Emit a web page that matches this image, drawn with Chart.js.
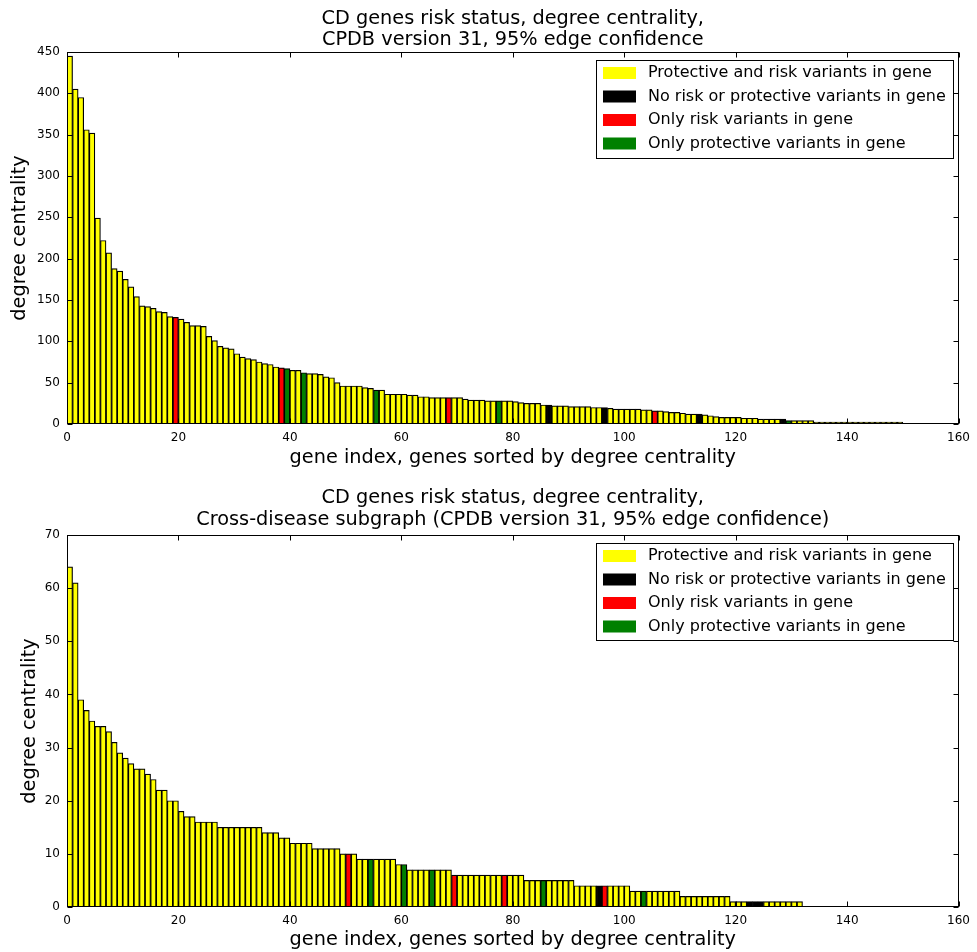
<!DOCTYPE html>
<html>
<head>
<meta charset="utf-8">
<script src="https://cdn.jsdelivr.net/npm/chart.js@4.4.0/dist/chart.umd.min.js"></script>
<style>
  html, body { margin: 0; padding: 0; background: #fff; }
  canvas { display: block; }
</style>
</head>
<body>
<canvas id="topChart" width="977" height="476"></canvas>
<canvas id="bottomChart" width="977" height="476"></canvas>
<script>
/* ── DATA ── */
const STATUS_LABELS = [
  'Protective and risk variants in gene',
  'No risk or protective variants in gene',
  'Only risk variants in gene',
  'Only protective variants in gene'
];
const STATUS_COLORS = ['#ffff00', '#000000', '#ff0000', '#008000'];

// full network, genes sorted by degree
const TOP_DEGREE = [
  445, 405, 395, 356, 352, 249, 222, 207, 188, 185,
  175, 166, 154, 143, 142, 140, 136, 135, 130, 129,
  127, 123, 119, 119, 118, 106, 101, 94, 92, 91,
  85, 81, 79, 78, 75, 73, 72, 69, 68, 67,
  65, 65, 62, 61, 61, 60, 57, 56, 50, 46,
  46, 46, 46, 44, 43, 41, 41, 36, 36, 36,
  36, 35, 35, 33, 33, 32, 32, 32, 32, 32,
  32, 30, 29, 29, 29, 28, 28, 28, 28, 28,
  27, 26, 25, 25, 25, 23, 23, 22, 22, 22,
  21, 21, 21, 21, 20, 20, 20, 19, 18, 18,
  18, 18, 18, 17, 17, 16, 16, 15, 14, 14,
  13, 12, 12, 12, 11, 10, 9, 8, 8, 8,
  8, 7, 7, 7, 6, 6, 6, 6, 6, 4,
  4, 4, 4, 4, 2, 2, 2, 2, 2, 2,
  2, 2, 1, 1, 1, 1, 1, 1, 1, 1
];
const TOP_BLACK = [86, 96, 113, 128];
const TOP_RED = [19, 38, 68, 105];
const TOP_GREEN = [39, 42, 55, 77, 129];

// cross-disease subgraph
const SUB_DEGREE = [
  64, 61, 39, 37, 35, 34, 34, 33, 31, 29,
  28, 27, 26, 26, 25, 24, 22, 22, 20, 20,
  18, 17, 17, 16, 16, 16, 16, 15, 15, 15,
  15, 15, 15, 15, 15, 14, 14, 14, 13, 13,
  12, 12, 12, 12, 11, 11, 11, 11, 11, 10,
  10, 10, 9, 9, 9, 9, 9, 9, 9, 8,
  8, 7, 7, 7, 7, 7, 7, 7, 7, 6,
  6, 6, 6, 6, 6, 6, 6, 6, 6, 6,
  6, 6, 5, 5, 5, 5, 5, 5, 5, 5,
  5, 4, 4, 4, 4, 4, 4, 4, 4, 4,
  4, 3, 3, 3, 3, 3, 3, 3, 3, 3,
  2, 2, 2, 2, 2, 2, 2, 2, 2, 1,
  1, 1, 1, 1, 1, 1, 1, 1, 1, 1,
  1, 1
];
const SUB_BLACK = [95, 122, 123, 124];
const SUB_RED = [50, 69, 78, 96];
const SUB_GREEN = [54, 60, 65, 85, 103];

const X_TICKS = [0, 20, 40, 60, 80, 100, 120, 140, 160];

/* ── DEFAULTS ── */
const FONT = "'DejaVu Sans', sans-serif";
Chart.defaults.font.family = FONT;
Chart.defaults.color = '#000';
Chart.defaults.animation = false;

function barColors(n, black, red, green) {
  const c = Array(n).fill(STATUS_COLORS[0]);
  black.forEach(i => c[i] = STATUS_COLORS[1]);
  red.forEach(i => c[i] = STATUS_COLORS[2]);
  green.forEach(i => c[i] = STATUS_COLORS[3]);
  return c;
}

/* ── FRAME, INWARD TICKS, TITLES, LEGEND ── */
const decor = {
  id: 'decor',
  afterDraw(chart, args, o) {
    const { ctx, chartArea: a, scales } = chart;
    const L = Math.round(a.left) + 0.5, R = Math.round(a.right) - 0.5;
    const T = Math.round(a.top) + 0.5, B = Math.round(a.bottom) - 0.5;
    ctx.save();
    ctx.strokeStyle = '#000';
    ctx.lineWidth = 1;
    ctx.strokeRect(L, T, R - L, B - T);

    ctx.beginPath();
    X_TICKS.forEach(v => {
      const px = Math.round(scales.x.getPixelForValue(v)) + 0.5;
      ctx.moveTo(px, B); ctx.lineTo(px, B - 5);
      ctx.moveTo(px, T); ctx.lineTo(px, T + 5);
    });
    scales.y.ticks.forEach(t => {
      const py = Math.round(scales.y.getPixelForValue(t.value)) + 0.5;
      ctx.moveTo(L, py); ctx.lineTo(L + 5, py);
      ctx.moveTo(R, py); ctx.lineTo(R - 5, py);
    });
    ctx.stroke();

    // title and axis labels
    const cx = (a.left + a.right) / 2;
    ctx.fillStyle = '#000';
    ctx.textAlign = 'center';
    ctx.textBaseline = 'middle';
    ctx.font = `19.3px ${FONT}`;
    o.title.forEach((line, i) => ctx.fillText(line, cx, o.titleY[i]));
    ctx.fillText(o.xLabel, cx, o.xLabelY);
    ctx.save();
    ctx.translate(o.yLabelX, (a.top + a.bottom) / 2);
    ctx.rotate(-Math.PI / 2);
    ctx.fillText(o.yLabel, 0, 0);
    ctx.restore();

    // legend, upper right
    const lg = o.legend;
    ctx.fillStyle = '#fff';
    ctx.fillRect(lg.x, lg.y, lg.w, lg.h);
    ctx.strokeRect(lg.x + 0.5, lg.y + 0.5, lg.w, lg.h);
    ctx.font = `16px ${FONT}`;
    ctx.textAlign = 'left';
    STATUS_LABELS.forEach((label, i) => {
      const yc = lg.y + 13 + i * 23.5;
      ctx.fillStyle = STATUS_COLORS[i];
      ctx.fillRect(lg.x + 7, yc - 6, 33, 12);
      ctx.fillStyle = '#000';
      ctx.fillText(label, lg.x + 52, yc);
    });
    ctx.restore();
  }
};

/* ── CHART BUILDER ── */
function buildChart(id, values, colors, cfg) {
  return new Chart(document.getElementById(id), {
    type: 'bar',
    data: {
      datasets: [{
        data: values.map((v, i) => ({ x: i + 0.5, y: v })),
        backgroundColor: colors,
        borderColor: '#000',
        borderWidth: 1.2,
        borderSkipped: false,
        minBarLength: 2,
        barPercentage: 1,
        categoryPercentage: 1
      }]
    },
    options: {
      responsive: false,
      layout: { padding: { top: cfg.plotTop, right: 16, left: 0, bottom: 0 } },
      plugins: {
        legend: { display: false },
        tooltip: { enabled: false },
        decor: cfg.decor
      },
      scales: {
        x: {
          type: 'linear',
          min: 0, max: 160,
          offset: false,
          grid: { display: false, drawTicks: false },
          border: { display: false },
          ticks: { stepSize: 20, padding: 7, maxRotation: 0, font: { size: 12 } },
          afterFit: s => { s.height = 476 - cfg.plotBottom; }
        },
        y: {
          min: 0, max: cfg.yMax,
          grid: { display: false, drawTicks: false },
          border: { display: false },
          ticks: { stepSize: cfg.yStep, padding: 7, font: { size: 12 } },
          afterFit: s => { s.width = 67; }
        }
      }
    },
    plugins: [decor]
  });
}

/* ── INIT ── */
buildChart('topChart', TOP_DEGREE,
  barColors(TOP_DEGREE.length, TOP_BLACK, TOP_RED, TOP_GREEN), {
    plotTop: 52, plotBottom: 424, yMax: 450, yStep: 50,
    decor: {
      title: ['CD genes risk status, degree centrality,', 'CPDB version 31, 95% edge confidence'],
      titleY: [19, 40],
      xLabel: 'gene index, genes sorted by degree centrality', xLabelY: 458,
      yLabel: 'degree centrality', yLabelX: 20,
      legend: { x: 596, y: 60, w: 357, h: 98 }
    }
  });

buildChart('bottomChart', SUB_DEGREE,
  barColors(SUB_DEGREE.length, SUB_BLACK, SUB_RED, SUB_GREEN), {
    plotTop: 59, plotBottom: 431, yMax: 70, yStep: 10,
    decor: {
      title: ['CD genes risk status, degree centrality,', 'Cross-disease subgraph (CPDB version 31, 95% edge confidence)'],
      titleY: [22, 44],
      xLabel: 'gene index, genes sorted by degree centrality', xLabelY: 464,
      yLabel: 'degree centrality', yLabelX: 30,
      legend: { x: 596, y: 67, w: 357, h: 97 }
    }
  });
</script>
</body>
</html>
